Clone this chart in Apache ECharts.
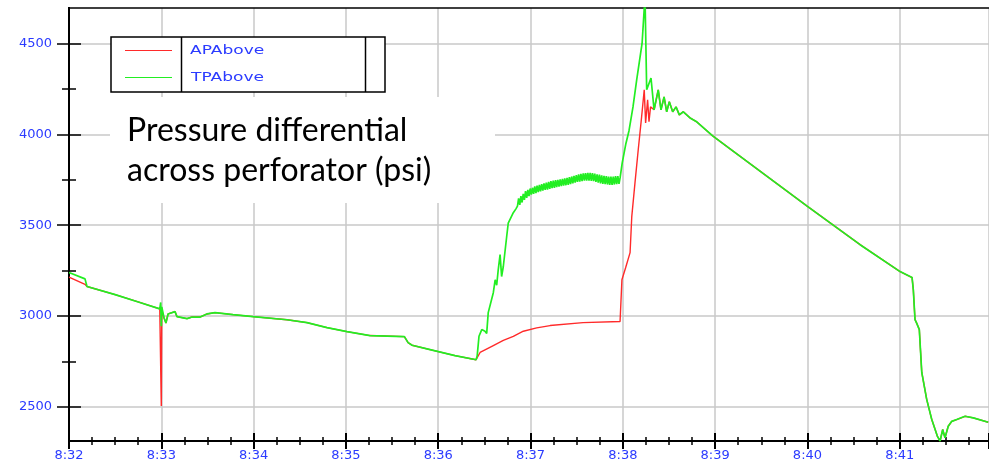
<!DOCTYPE html>
<html>
<head>
<meta charset="utf-8">
<script src="https://cdn.jsdelivr.net/npm/echarts@6.0.0/dist/echarts.min.js"></script>
<style>
    html, body { margin: 0; padding: 0; background: #fff; }
    #pressure-chart { width: 989px; height: 464px; }
</style>
</head>
<body>
<div id="pressure-chart"></div>
<script>
// time = seconds after 8:32, value = psi
var apStart = [[0, 3215], [10.4, 3175]];
var tpStart = [[0, 3240], [10.4, 3205]];

var shared1 = [[11.7, 3163], [30, 3118], [45, 3078], [59, 3040]];

var apSpike = [[59.6, 3040], [60, 2505], [60.3, 3030]];
var tpSpike = [[59.6, 3075], [60, 2945], [60.3, 3050]];

var shared2 = [[61.8, 2990], [63, 2962], [63.8, 2962], [64.4, 3012], [68.9, 3025], [70.2, 2997],
    [76.7, 2986], [80, 2995], [85.2, 2995], [89.7, 3012], [94.9, 3019], [106.6, 3008],
    [119.6, 2997], [141.7, 2980], [154.7, 2964], [167.7, 2937], [180.7, 2915], [195.7, 2893],
    [218, 2887], [220.4, 2854], [223, 2840], [234.7, 2816], [250.9, 2783], [264.6, 2760]];

var apRise = [[267.2, 2800], [275.8, 2838], [282.3, 2866], [288.8, 2889], [295.3, 2917],
    [304, 2935], [312.7, 2948], [334.1, 2964], [358.2, 2970], [358.8, 2972], [359.4, 3200],
    [361.8, 3266], [364.7, 3349], [365.8, 3547], [367.9, 3734], [370, 3915], [372.2, 4096],
    [373.9, 4245], [374.8, 4063], [376.1, 4190], [377, 4069], [378, 4151]];

var tpRise = [[265.3, 2780], [266.5, 2889], [268.3, 2926], [270.4, 2917], [271.5, 2905],
    [272.5, 3019], [275.8, 3129], [277, 3200], [278, 3170], [279, 3255], [280.2, 3338],
    [281.2, 3218], [282.3, 3273], [284.5, 3438], [285.5, 3511], [288.8, 3569], [290.5, 3590]];

// noisy plateau before the second jump
var tpBand = [[291.5, 3605], [292.25, 3648], [293, 3612], [293.75, 3660], [294.5, 3625],
    [295.25, 3672], [296, 3640], [296.75, 3688], [297.5, 3650], [298.25, 3695], [299, 3660],
    [299.75, 3702], [300.5, 3668], [301.25, 3706], [302, 3672], [302.75, 3714], [303.5, 3676],
    [304.25, 3718], [305, 3682], [305.75, 3722], [306.5, 3686], [307.25, 3726], [308, 3690],
    [308.75, 3730], [309.5, 3694], [310.25, 3734], [311, 3696], [311.75, 3738], [312.5, 3700],
    [313.25, 3742], [314, 3704], [314.75, 3745], [315.5, 3706], [316.25, 3748], [317, 3710],
    [317.75, 3750], [318.5, 3712], [319.25, 3752], [320, 3715], [320.75, 3755], [321.5, 3718],
    [322.25, 3758], [323, 3720], [323.75, 3760], [324.5, 3722], [325.25, 3764], [326, 3726],
    [326.75, 3768], [327.5, 3730], [328.25, 3772], [329, 3734], [329.75, 3776], [330.5, 3738],
    [331.25, 3780], [332, 3740], [332.75, 3782], [333.5, 3742], [334.25, 3785], [335, 3745],
    [335.75, 3786], [336.5, 3746], [337.25, 3788], [338, 3746], [338.75, 3788], [339.5, 3744],
    [340.25, 3786], [341, 3742], [341.75, 3784], [342.5, 3738], [343.25, 3780], [344, 3734],
    [344.75, 3778], [345.5, 3730], [346.25, 3774], [347, 3728], [347.75, 3772], [348.5, 3726],
    [349.25, 3770], [350, 3724], [350.75, 3768], [351.5, 3722], [352.25, 3768], [353, 3722],
    [353.75, 3768], [354.5, 3724], [355.25, 3770], [356, 3726], [356.75, 3770], [357.5, 3728],
    [358.2, 3760]];

var tpPeak = [[358.8, 3767], [359.6, 3843], [362, 3950], [364, 4020], [366.6, 4151],
    [369, 4300], [372.5, 4500], [374.4, 4760], [375.5, 4245], [378.3, 4310]];

var shared3 = [[380.3, 4135], [383, 4245], [384.8, 4135], [386.8, 4206], [388.5, 4124],
    [390.2, 4179], [392.4, 4124], [394.6, 4151], [396.7, 4107], [399.3, 4124], [403.7, 4090],
    [408, 4069], [418.6, 3990], [429.7, 3920], [480, 3604], [514.2, 3393], [540.2, 3245],
    [548, 3212], [548.8, 3146], [549.9, 2981], [550.9, 2963], [552.7, 2926], [554.3, 2690],
    [557.5, 2542], [560.8, 2431], [564.4, 2340], [566.2, 2313], [567.9, 2376], [569.4, 2331],
    [571.5, 2394], [573.8, 2421], [577, 2431], [582.4, 2449], [587.8, 2440], [597.5, 2416]];

var yLabels = [2500, 3000, 3500, 4000, 4500];
var yMinor = [2750, 3250, 3750, 4250];
var seriesNames = ['APAbove', 'TPAbove'];

var apAbove = [].concat(apStart, shared1, apSpike, shared2, apRise, shared3);
var tpAbove = [].concat(tpStart, shared1, tpSpike, shared2, tpRise, tpBand, tpPeak, shared3);

var blue = '#2b3bff';
var axisFont = 'DejaVu Sans';

var pressureChart = echarts.init(document.getElementById('pressure-chart'));

function xAxisBase(inside) {
    return {
        type: 'value',
        min: 0,
        max: 598,
        interval: 60,
        position: 'bottom',
        axisLine: { show: true, onZero: false, lineStyle: { color: '#000', width: 2 } },
        axisTick: { show: true, inside: inside, length: 8, lineStyle: { color: '#000', width: 2 } },
        minorTick: { show: true, splitNumber: 4, length: 4, lineStyle: { color: '#000', width: 1.5 } },
        axisLabel: { show: false },
        splitLine: { show: false }
    };
}

function yAxisBase(inside, values, len) {
    return {
        type: 'value',
        min: 2313,
        max: 4695,
        position: 'left',
        axisLine: { show: true, onZero: false, lineStyle: { color: '#000', width: 2 } },
        axisTick: { show: true, inside: inside, length: len, customValues: values,
            lineStyle: { color: '#000', width: 1.5 } },
        axisLabel: { show: false },
        splitLine: { show: false }
    };
}

var xMain = xAxisBase(false);
xMain.axisLabel = {
    show: true,
    margin: 8,
    color: blue,
    fontFamily: axisFont,
    fontSize: 13,
    showMaxLabel: false,
    formatter: function (v) { return '8:' + (32 + Math.round(v / 60)); }
};
xMain.splitLine = { show: true, lineStyle: { color: '#c8c8c8', width: 1.5 } };

var xTop = {
    type: 'value', min: 0, max: 598, position: 'top',
    axisLine: { show: true, onZero: false, lineStyle: { color: '#000', width: 1.5 } },
    axisTick: { show: false }, axisLabel: { show: false }, splitLine: { show: false }
};

var yMain = yAxisBase(false, yLabels, 12);
yMain.axisLabel = {
    show: true,
    customValues: yLabels,
    margin: 17,
    color: blue,
    fontFamily: axisFont,
    fontSize: 13,
    formatter: function (v) { return String(v); }
};
yMain.splitNumber = 5;
yMain.splitLine = { show: true, lineStyle: { color: '#c8c8c8', width: 1.5 } };

var option = {
    animation: false,
    backgroundColor: '#fff',
    grid: { left: 69, right: 0, top: 8, bottom: 23, containLabel: false },
    xAxis: [xMain, xAxisBase(true), xTop],
    yAxis: [yMain, yAxisBase(true, yLabels, 12), yAxisBase(false, yMinor, 7), yAxisBase(true, yMinor, 7)],
    series: [{
        name: seriesNames[0],
        type: 'line',
        data: apAbove,
        showSymbol: false,
        z: 2,
        lineStyle: { color: '#ff2a2a', width: 1.4 }
    }, {
        name: seriesNames[1],
        type: 'line',
        data: tpAbove,
        showSymbol: false,
        z: 3,
        lineStyle: { color: '#22ee22', width: 1.7 }
    }],
    graphic: [
        // legend box
        { type: 'rect', shape: { x: 111, y: 37, width: 274, height: 55 }, z: 100,
            style: { fill: '#fff', stroke: '#000', lineWidth: 1.5 } },
        { type: 'line', shape: { x1: 181.5, y1: 37, x2: 181.5, y2: 92 }, z: 101,
            style: { stroke: '#000', lineWidth: 1.5 } },
        { type: 'line', shape: { x1: 365.5, y1: 37, x2: 365.5, y2: 92 }, z: 101,
            style: { stroke: '#000', lineWidth: 1.5 } },
        { type: 'line', shape: { x1: 125, y1: 50.5, x2: 172, y2: 50.5 }, z: 101,
            style: { stroke: '#ff2a2a', lineWidth: 1.2 } },
        { type: 'line', shape: { x1: 125, y1: 77.5, x2: 172, y2: 77.5 }, z: 101,
            style: { stroke: '#22ee22', lineWidth: 1.2 } },
        { type: 'text', x: 190, y: 51, scaleX: 1.42, originX: 0, originY: 0, z: 101,
            style: { text: seriesNames[0], fill: blue, font: '12px "DejaVu Sans"', verticalAlign: 'middle' } },
        { type: 'text', x: 191, y: 78, scaleX: 1.42, originX: 0, originY: 0, z: 101,
            style: { text: seriesNames[1], fill: blue, font: '12px "DejaVu Sans"', verticalAlign: 'middle' } },
        // annotation
        { type: 'rect', shape: { x: 110, y: 97, width: 385, height: 106 }, z: 100,
            style: { fill: '#fff' } },
        { type: 'text', x: 127, y: 131, z: 101,
            style: { text: 'Pressure differential', fill: '#000', font: '32px Lato', verticalAlign: 'middle' } },
        { type: 'text', x: 127, y: 171, z: 101,
            style: { text: 'across perforator (psi)', fill: '#000', font: '32px Lato', verticalAlign: 'middle' } }
    ]
};

pressureChart.setOption(option);
</script>
</body>
</html>
